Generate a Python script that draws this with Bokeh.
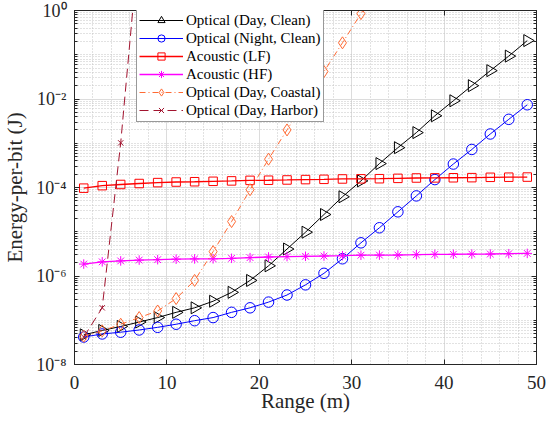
import numpy as np
from bokeh.plotting import figure
from bokeh.models import (Legend, LegendItem, FixedTicker, LinearAxis, LogAxis,
                          BasicTickFormatter, CustomJSTickFormatter)
from bokeh.embed import file_html
from bokeh.resources import INLINE

range_m = [1, 3, 5, 7, 9, 11, 13, 15, 17, 19, 21, 23, 25, 27, 29, 31, 33, 35, 37, 39, 41, 43, 45, 47, 49]

optical_day_clean = [4.68e-8, 5.89e-8, 7.24e-8, 9.12e-8, 1.15e-7, 1.51e-7, 1.91e-7, 2.69e-7, 4.27e-7, 7.94e-7,
                     1.70e-6, 4.07e-6, 9.77e-6, 2.45e-5, 6.17e-5, 1.41e-4, 3.47e-4, 7.94e-4, 1.74e-3, 4.17e-3,
                     9.12e-3, 2.00e-2, 4.37e-2, 9.33e-2, 0.209]
optical_night_clean = [4.17e-8, 4.90e-8, 5.37e-8, 6.03e-8, 6.92e-8, 8.13e-8, 9.77e-8, 1.15e-7, 1.51e-7, 1.91e-7,
                       2.57e-7, 3.72e-7, 6.31e-7, 1.15e-6, 2.45e-6, 5.62e-6, 1.23e-5, 2.82e-5, 6.46e-5, 1.51e-4,
                       3.39e-4, 7.24e-4, 1.62e-3, 3.47e-3, 7.41e-3]
acoustic_lf = [9.66e-5, 1.10e-4, 1.17e-4, 1.23e-4, 1.29e-4, 1.33e-4, 1.35e-4, 1.38e-4, 1.41e-4, 1.45e-4,
               1.46e-4, 1.48e-4, 1.51e-4, 1.53e-4, 1.56e-4, 1.57e-4, 1.58e-4, 1.61e-4, 1.64e-4, 1.65e-4,
               1.66e-4, 1.67e-4, 1.70e-4, 1.71e-4, 1.72e-4]
acoustic_hf = [1.86e-6, 2.09e-6, 2.19e-6, 2.29e-6, 2.34e-6, 2.40e-6, 2.43e-6, 2.45e-6, 2.51e-6, 2.60e-6,
               2.69e-6, 2.75e-6, 2.79e-6, 2.83e-6, 2.88e-6, 2.95e-6, 2.97e-6, 2.98e-6, 3.03e-6, 3.09e-6,
               3.10e-6, 3.13e-6, 3.14e-6, 3.19e-6, 3.24e-6]
coastal_range = [1, 3, 5, 7, 9, 11, 13, 15, 17, 19, 21, 23, 25, 27, 29, 31, 33]
optical_day_coastal = [4.37e-8, 5.75e-8, 8.13e-8, 1.15e-7, 1.62e-7, 3.09e-7, 7.94e-7, 3.55e-6, 1.70e-5, 8.91e-5,
                       4.37e-4, 2.00e-3, 9.33e-3, 4.17e-2, 0.186, 0.851, 3.98]
harbor_range = [1, 3, 5, 7]
optical_day_harbor = [4.17e-8, 1.91e-7, 1.02e-3, 40.0]

x_ticks = [0, 10, 20, 30, 40, 50]
y_ticks = [1e-8, 1e-6, 1e-4, 1e-2, 1e0]
y_tick_labels = ["10\u207b\u2078", "10\u207b\u2076", "10\u207b\u2074", "10\u207b\u00b2", "10\u2070"]

FONT = "Liberation Serif"
AX = "#262626"

p = figure(width=547, height=429, y_axis_type="log", x_range=(0, 50), y_range=(1e-8, 1),
           output_backend="svg", toolbar_location=None,
           min_border_left=69, min_border_right=11, min_border_top=10, min_border_bottom=65)
p.outline_line_color = AX

x_minor = [v for v in range(2, 50, 2) if v % 10 != 0]
y_minor = [k * 10.0 ** e for e in range(-8, 0) for k in range(1, 10) if not (k == 1 and e % 2 == 0)]

p.xaxis.ticker = FixedTicker(ticks=x_ticks, minor_ticks=x_minor)
p.yaxis.ticker = FixedTicker(ticks=y_ticks, minor_ticks=y_minor)
p.yaxis.formatter = CustomJSTickFormatter(
    args=dict(labels=y_tick_labels),
    code="const e = Math.round(Math.log10(tick)); return labels[Math.round((e + 8) / 2)];")

for ax in [p.xaxis[0], p.yaxis[0]]:
    ax.axis_line_color = AX
    ax.major_tick_line_color = AX
    ax.minor_tick_line_color = AX
    ax.major_tick_in = 5
    ax.major_tick_out = 0
    ax.minor_tick_in = 3
    ax.minor_tick_out = 0
    ax.major_label_text_font = FONT
    ax.major_label_text_font_size = "19px"
    ax.major_label_text_color = AX
    ax.axis_label_text_font = FONT
    ax.axis_label_text_font_size = "21px"
    ax.axis_label_text_font_style = "normal"
    ax.axis_label_text_color = AX
p.yaxis.major_label_text_font_size = "18px"
p.xaxis.minor_tick_line_color = None
p.xaxis.axis_label = "Range (m)"
p.yaxis.axis_label = "Energy-per-bit (J)"
p.xaxis.major_label_standoff = 11
p.xaxis.axis_label_standoff = -3
p.yaxis.major_label_standoff = 8
p.yaxis.axis_label_standoff = 6

top_ax = LinearAxis(ticker=FixedTicker(ticks=x_ticks), formatter=BasicTickFormatter(),
                    major_label_text_font_size="1px", major_label_text_alpha=0,
                    major_tick_in=5, major_tick_out=0, minor_tick_line_color=None,
                    axis_line_color=AX, major_tick_line_color=AX, major_label_standoff=0)
right_ax = LogAxis(ticker=FixedTicker(ticks=y_ticks, minor_ticks=y_minor), formatter=BasicTickFormatter(),
                   major_label_text_font_size="1px", major_label_text_alpha=0,
                   major_tick_in=5, major_tick_out=0, minor_tick_in=3, minor_tick_out=0,
                   axis_line_color=AX, major_tick_line_color=AX,
                   minor_tick_line_color=AX, major_label_standoff=0)
p.add_layout(top_ax, "above")
p.add_layout(right_ax, "right")

for g in [p.xgrid[0], p.ygrid[0]]:
    g.grid_line_color = "#dcdcdc"
    g.grid_line_width = 1
    g.minor_grid_line_color = "#c4c4c4"
    g.minor_grid_line_dash = "1 2"
    g.minor_grid_line_width = 1

items = []

def series(x, y, color, marker, size, label, dash="solid", angle=0.0, lw=1.0):
    l = p.line(x, y, line_color=color, line_width=lw, line_dash=dash)
    s = p.scatter(x, y, marker=marker, size=size, line_color=color, fill_color=None,
                  line_width=1, angle=angle)
    items.append(LegendItem(label=label, renderers=[l, s]))

series(range_m, optical_day_clean, "#000000", "triangle", 12, "Optical (Day, Clean)", angle=-np.pi / 2)
series(range_m, optical_night_clean, "#0000ff", "circle", 10.5, "Optical (Night, Clean)")
series(range_m, acoustic_lf, "#ff0000", "square", 8.5, "Acoustic (LF)", lw=1.3)
series(range_m, acoustic_hf, "#ff00ff", "asterisk", 9.5, "Acoustic (HF)", lw=1.3)
series(coastal_range, optical_day_coastal, "#ff6a33", "diamond", 12, "Optical (Day, Coastal)", dash="6 3 1 3")
series(harbor_range, optical_day_harbor, "#a2142f", "x", 7.5, "Optical (Day, Harbor)", dash="9 5")

legend = Legend(items=items, location=(62, 242))
legend.label_text_font = FONT
legend.label_text_font_size = "15px"
legend.label_text_color = "#000000"
legend.glyph_width = 44
legend.glyph_height = 18
legend.label_height = 18
legend.label_standoff = 3
legend.spacing = 0
legend.padding = 2
legend.margin = 0
legend.border_line_color = "#333333"
legend.border_line_width = 1
legend.background_fill_color = "white"
legend.background_fill_alpha = 1
p.add_layout(legend, "center")

open("out.html", "w").write(file_html(p, INLINE))
